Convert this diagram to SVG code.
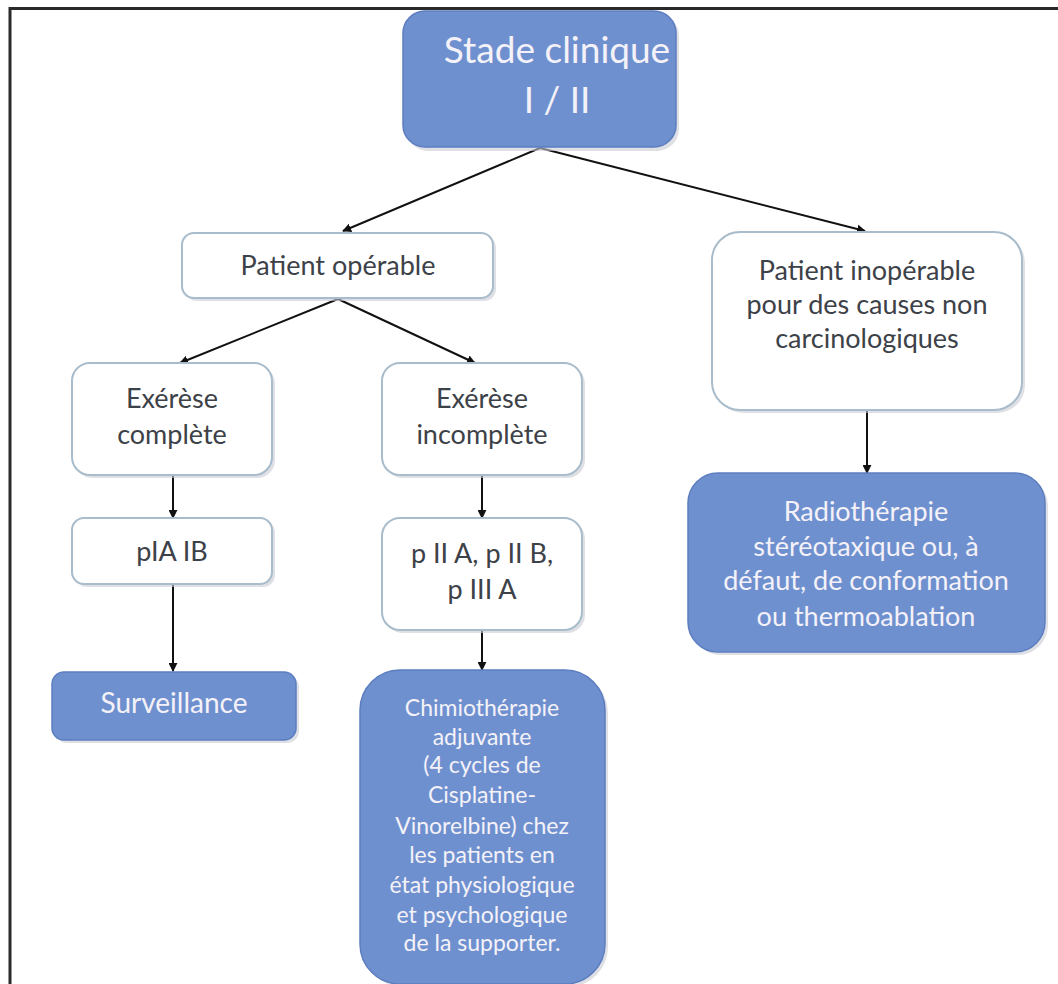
<svg xmlns="http://www.w3.org/2000/svg" width="1058" height="984" viewBox="0 0 1058 984">
<defs>
<style>
.blue{fill:#6f90cf;stroke:#5c7dc0;stroke-width:1.5}
.white{fill:#ffffff;stroke:#a8bccb;stroke-width:2}
.sh{fill:#c9ccd3;opacity:0.6}
.tw{font-family:Lato,"Open Sans",sans-serif;fill:#f4f2f8;text-anchor:middle}
.td{font-family:Lato,"Open Sans",sans-serif;fill:#3d4148;text-anchor:middle;font-size:27px}
.c{stroke:#111;stroke-width:2;fill:none;marker-end:url(#ah)}
</style>
<marker id="ah" viewBox="0 0 10 10" refX="9" refY="5" markerWidth="9" markerHeight="9" markerUnits="userSpaceOnUse" orient="auto"><path d="M0,0 L10,5 L0,10 z" fill="#111"/></marker>
</defs>
<rect width="1058" height="984" fill="#fff"/>
<path d="M10,984 V8.5 H1058" fill="none" stroke="#2a2a2a" stroke-width="3"/>

<g id="connectors">
<line class="c" x1="540" y1="148" x2="343" y2="231"/>
<line class="c" x1="540" y1="148" x2="865" y2="231"/>
<line class="c" x1="338" y1="299" x2="180" y2="363"/>
<line class="c" x1="338" y1="299" x2="475" y2="363"/>
<line class="c" x1="173" y1="476" x2="173" y2="518"/>
<line class="c" x1="482" y1="476" x2="482" y2="518"/>
<line class="c" x1="173" y1="585" x2="173" y2="671"/>
<line class="c" x1="482" y1="631" x2="482" y2="670"/>
<line class="c" x1="867" y1="411" x2="867" y2="473"/>
</g>

<g id="stade">
<rect class="sh" x="406" y="14" width="273" height="137" rx="22"/>
<rect class="blue" x="403" y="11" width="273" height="136" rx="22"/>
<text class="tw" x="557" y="63" font-size="37">Stade clinique</text>
<text class="tw" x="557" y="113" font-size="37">I / II</text>
</g>

<g id="operable">
<rect class="sh" x="185" y="236" width="311" height="65" rx="12"/>
<rect class="white" x="182" y="233" width="311" height="65" rx="12"/>
<text class="td" x="338" y="275">Patient opérable</text>
</g>

<g id="inoperable">
<rect class="sh" x="715" y="235" width="310" height="178" rx="28"/>
<rect class="white" x="712" y="232" width="310" height="178" rx="28"/>
<text class="td" x="867" y="280">Patient inopérable</text>
<text class="td" x="867" y="314">pour des causes non</text>
<text class="td" x="867" y="348">carcinologiques</text>
</g>

<g id="exerese-complete">
<rect class="sh" x="75" y="366" width="200" height="112" rx="18"/>
<rect class="white" x="72" y="363" width="200" height="112" rx="18"/>
<text class="td" x="172" y="408">Exérèse</text>
<text class="td" x="172" y="444">complète</text>
</g>

<g id="exerese-incomplete">
<rect class="sh" x="385" y="366" width="200" height="112" rx="18"/>
<rect class="white" x="382" y="363" width="200" height="112" rx="18"/>
<text class="td" x="482" y="408">Exérèse</text>
<text class="td" x="482" y="444">incomplète</text>
</g>

<g id="pIA">
<rect class="sh" x="75" y="521" width="200" height="66" rx="12"/>
<rect class="white" x="72" y="518" width="200" height="66" rx="12"/>
<text class="td" x="172" y="561">pIA IB</text>
</g>

<g id="pII">
<rect class="sh" x="385" y="521" width="200" height="112" rx="18"/>
<rect class="white" x="382" y="518" width="200" height="112" rx="18"/>
<text class="td" x="482" y="563">p II A, p II B,</text>
<text class="td" x="482" y="599">p III A</text>
</g>

<g id="surveillance">
<rect class="sh" x="55" y="675" width="244" height="68" rx="12"/>
<rect class="blue" x="52" y="672" width="244" height="68" rx="12"/>
<text class="tw" x="174" y="713" font-size="28">Surveillance</text>
</g>

<g id="chimio">
<rect class="sh" x="363" y="673" width="245" height="314" rx="40"/>
<rect class="blue" x="360" y="670" width="245" height="314" rx="40"/>
<g font-size="23">
<text class="tw" x="482" y="716">Chimiothérapie</text>
<text class="tw" x="482" y="745">adjuvante</text>
<text class="tw" x="482" y="773">(4 cycles de</text>
<text class="tw" x="482" y="803">Cisplatine-</text>
<text class="tw" x="482" y="834">Vinorelbine) chez</text>
<text class="tw" x="482" y="863">les patients en</text>
<text class="tw" x="482" y="893">état physiologique</text>
<text class="tw" x="482" y="923">et psychologique</text>
<text class="tw" x="482" y="951">de la supporter.</text>
</g>
</g>

<g id="radio">
<rect class="sh" x="691" y="476" width="357" height="179" rx="30"/>
<rect class="blue" x="688" y="473" width="357" height="179" rx="30"/>
<g font-size="27">
<text class="tw" x="866" y="521">Radiothérapie</text>
<text class="tw" x="866" y="556">stéréotaxique ou, à</text>
<text class="tw" x="866" y="590">défaut, de conformation</text>
<text class="tw" x="866" y="626">ou thermoablation</text>
</g>
</g>
</svg>
